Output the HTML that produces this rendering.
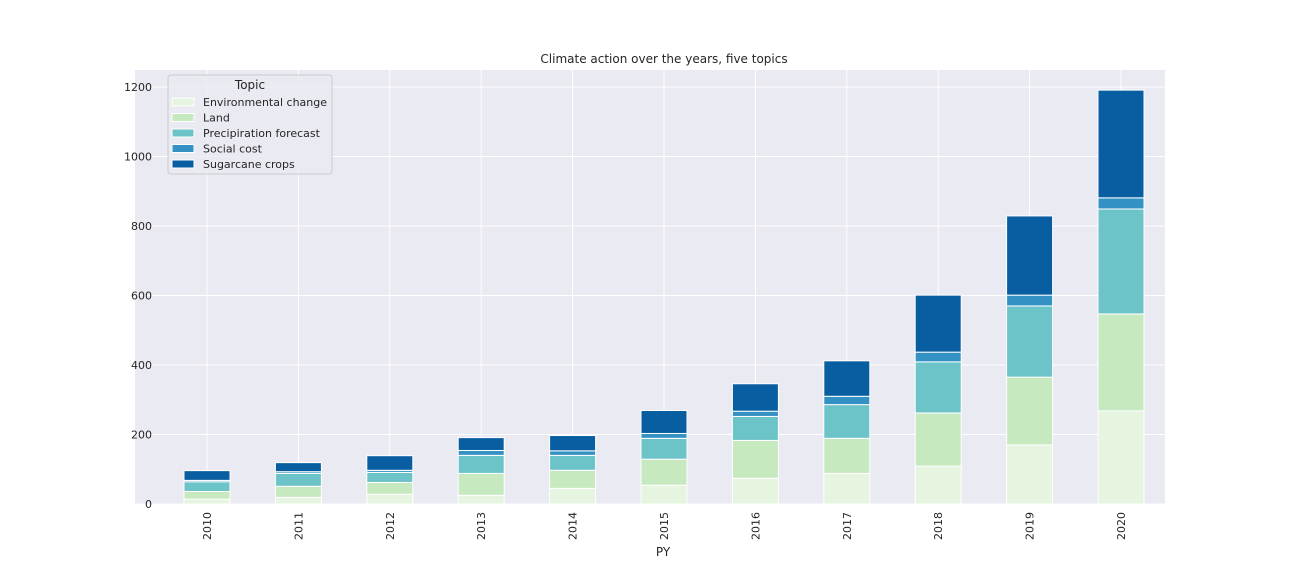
<!DOCTYPE html>
<html><head><meta charset="utf-8"><style>
body{margin:0;background:#fff;font-family:"DejaVu Sans","Liberation Sans",sans-serif;}
</style></head><body>
<svg id="chart" width="1296" height="576" xmlns="http://www.w3.org/2000/svg">
<rect x="135" y="70" width="1030" height="434" fill="#eaeaf2"/>
<g id="grid"></g><g id="bars"></g><g id="axes"></g>
<text x="664" y="63" text-anchor="middle" font-size="12" fill="#262626">Climate action over the years, five topics</text>
<text x="663" y="556" text-anchor="middle" font-size="12" fill="#262626">PY</text>
<g>
<rect x="168" y="75" width="164" height="99" rx="3" fill="#eaeaf2" fill-opacity="0.85" stroke="#ccc"/>
<text x="250" y="89" text-anchor="middle" font-size="12" fill="#262626">Topic</text>
<g id="legend-items"></g>
</g>
</svg>
<script>
const years=["2010","2011","2012","2013","2014","2015","2016","2017","2018","2019","2020"];
const topics=["Environmental change","Land","Precipiration forecast","Social cost","Sugarcane crops"];
const envChange=[14,19,28,25,45,54,74,88,109,170,268];
const land=[22,32,34,63,52,75,109,101,153,195,279];
const precip=[28,37,29,52,43,60,69,97,147,205,302];
const socialCost=[4,5,6,14,13,14,15,24,28,31,32];
const sugarcane=[28,26,42,37,44,66,79,102,164,228,310];
const yTicks=[0,200,400,600,800,1000,1200];
const colors=["#e5f5e0","#c7e9c0","#6cc3c8","#3391c3","#085ea1"];
const series=[envChange,land,precip,socialCost,sugarcane];
const NS="http://www.w3.org/2000/svg";
const y=v=>504-v*0.3475;
const x=i=>207+i*91.4;
function mk(t,a,p){const e=document.createElementNS(NS,t);for(const k in a)e.setAttribute(k,a[k]);p.appendChild(e);return e;}
const grid=document.getElementById('grid'),bars=document.getElementById('bars'),axes=document.getElementById('axes');
yTicks.forEach(v=>{
 const l=mk('line',{x1:135,x2:1165,y1:y(v),y2:y(v),stroke:'#fff','stroke-width':1},grid);
 
 
 const t=mk('text',{x:152,y:y(v)+4,'text-anchor':'end','font-size':11,fill:'#262626'},axes);
 t.textContent=v;
 
 
});
years.forEach((yr,i)=>{
 const l=mk('line',{x1:x(i),x2:x(i),y1:70,y2:504,stroke:'#fff','stroke-width':1},grid);
 
 
 const t=mk('text',{x:0,y:0,'text-anchor':'end','font-size':11,fill:'#262626',transform:`translate(${x(i)+4},512) rotate(-90)`},axes);
 t.textContent=yr;
 
 
 let cum=0;
 series.forEach((s,k)=>{
  const r=mk('rect',{x:x(i)-23,width:46,y:y(cum+s[i]),height:s[i]*0.3475,fill:colors[k],stroke:'#fff','stroke-width':1},bars);
  
  
  cum+=s[i];
 });
});
const li=document.getElementById('legend-items');
topics.forEach((tp,k)=>{
 const cy=102+k*15.5;
 const r=mk('rect',{x:172,y:cy-4,width:22,height:8,fill:colors[k],stroke:'#fff','stroke-width':1},li);
 
 
 const t=mk('text',{x:203,y:cy+4,'font-size':11,fill:'#262626'},li);
 t.textContent=tp;
 
 
});
</script>
</body></html>
